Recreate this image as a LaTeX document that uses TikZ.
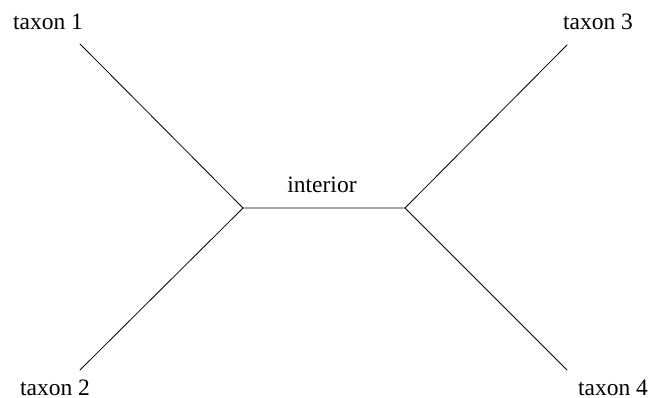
\documentclass[tikz,border=0pt]{standalone}
\usepackage{fontspec}
\setmainfont{Liberation Serif}
\begin{document}
\begin{tikzpicture}[x=1pt,y=-1pt,line join=round,line cap=round,line width=0.8pt,
	lbl/.style={anchor=base,inner sep=0pt,font=\fontsize{23.5}{28}\selectfont}]
	\useasboundingbox (0,0) rectangle (660,398);
	% junctions and free ends
	\coordinate (u) at (243,208);
	\coordinate (v) at (405,208);
	\coordinate (e1) at (80,44);
	\coordinate (e2) at (80,370);
	\coordinate (e3) at (567,45);
	\coordinate (e4) at (567,370);
	\node[lbl] (t1) at (48,30) {taxon 1};
	\node[lbl] (t2) at (55,395) {taxon 2};
	\node[lbl] (t3) at (598,30) {taxon 3};
	\node[lbl] (t4) at (613,395) {taxon 4};
	\node[lbl] (int) at (322,192) {interior};
	\draw (e1)--(u)--(e2) (u)--(v) (e3)--(v)--(e4);
\end{tikzpicture}
\end{document}
